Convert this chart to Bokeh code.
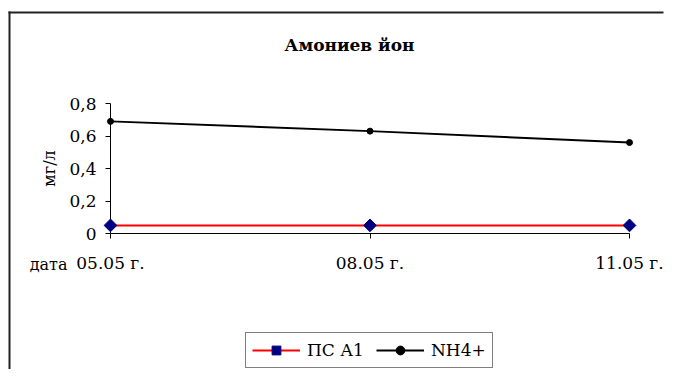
import math
from bokeh.plotting import figure
from bokeh.models import (Range1d, FixedTicker, CustomJSTickFormatter, Legend, LegendItem,
                          Label, BoxAnnotation)
from bokeh.embed import file_html
from bokeh.resources import INLINE

# ---- data ----
dates = ["05.05 г.", "08.05 г.", "11.05 г."]
x_pos = [0, 1, 2]
ps_a1 = [0.05, 0.05, 0.05]
nh4 = [0.69, 0.63, 0.56]
y_ticks = [0, 0.2, 0.4, 0.6, 0.8]
title_text = "Амониев йон"
y_label = "мг/л"
x_label = "дата"
series_names = ["ПС А1", "NH4+"]

FONT = "DejaVu Serif"
W, H = 666, 369
# pixel geometry of the plotting area inside the canvas
X0_PX, X2_PX = 110, 629      # x=0 and x=2
Y0_PX, Y8_PX = 233, 103      # y=0 and y=0.8 (from top)
xs = (X2_PX - X0_PX) / 2
ys = (Y0_PX - Y8_PX) / 0.8

p = figure(width=W, height=H, output_backend="svg", toolbar_location=None, title=None,
           x_range=Range1d(-X0_PX / xs, (W - X0_PX) / xs),
           y_range=Range1d(-(H - Y0_PX) / ys, Y0_PX / ys),
           min_border=0, min_border_left=0, min_border_right=0,
           min_border_top=0, min_border_bottom=0)
p.outline_line_color = None
p.xgrid.visible = False
p.ygrid.visible = False
p.background_fill_color = "white"
p.border_fill_color = "white"

# x axis
xa = p.xaxis[0]
xa.ticker = FixedTicker(ticks=x_pos)
xa.major_label_overrides = {i: d for i, d in zip(x_pos, dates)}
xa.fixed_location = 0
xa.bounds = (0, 2)
xa.major_tick_out = 5
xa.major_tick_in = 0
xa.minor_tick_out = 0
xa.minor_tick_in = 0
xa.major_label_text_font = FONT
xa.major_label_text_font_size = "17px"
xa.major_label_text_color = "black"
xa.major_label_standoff = 14
xa.axis_line_color = "black"
xa.major_tick_line_color = "black"

# y axis
ya = p.yaxis[0]
ya.ticker = FixedTicker(ticks=y_ticks)
ya.formatter = CustomJSTickFormatter(code="return tick == 0 ? '0' : tick.toFixed(1).replace('.', ',');")
ya.fixed_location = 0
ya.bounds = (0, 0.8)
ya.major_tick_out = 5
ya.major_tick_in = 0
ya.minor_tick_out = 0
ya.minor_tick_in = 0
ya.major_label_text_font = FONT
ya.major_label_text_font_size = "17px"
ya.major_label_text_color = "black"
ya.major_label_standoff = 9
ya.axis_label = y_label
ya.axis_label_text_font = FONT
ya.axis_label_text_font_size = "16px"
ya.axis_label_text_font_style = "normal"
ya.axis_label_text_color = "black"
ya.axis_label_standoff = 7
ya.axis_line_color = "black"
ya.major_tick_line_color = "black"

# series
r1 = p.line(x_pos, ps_a1, line_color="#FF0000", line_width=2)
s1 = p.scatter(x_pos, ps_a1, marker="square", size=9, angle=math.pi / 4,
               fill_color="#000080", line_color="#000080", level="overlay")
r2 = p.line(x_pos, nh4, line_color="black", line_width=2)
s2 = p.scatter(x_pos, nh4, marker="circle", size=6, fill_color="black", line_color="black")

legend = Legend(items=[LegendItem(label=series_names[0], renderers=[r1, s1]),
                       LegendItem(label=series_names[1], renderers=[r2, s2])],
                orientation="horizontal", location=(245, 1))
legend.label_text_font = FONT
legend.label_text_font_size = "17px"
legend.label_text_color = "black"
legend.border_line_color = "black"
legend.border_line_width = 1
legend.background_fill_color = "white"
legend.glyph_width = 48
legend.glyph_height = 22
legend.spacing = 12
legend.padding = 6
legend.margin = 0
legend.label_standoff = 7
p.add_layout(legend, "center")

# title
p.add_layout(Label(x=349, y=H - 44, x_units="screen", y_units="screen", text=title_text,
                   text_align="center", text_baseline="middle", text_color="black",
                   text_font=FONT, text_font_size="17px", text_font_style="bold"))

# "дата" label left of first category label
p.add_layout(Label(x=0, y=0, text=x_label, x_offset=-43, y_offset=-31,
                   text_align="right", text_baseline="middle", text_color="black",
                   text_font=FONT, text_font_size="16px"))

# outer chart border (top and left edges only; the rest lies outside the window)
p.add_layout(BoxAnnotation(left=8, right=W - 3, top=H - 11, bottom=H - 13,
                           left_units="screen", right_units="screen",
                           top_units="screen", bottom_units="screen",
                           fill_color="#222222", fill_alpha=1, line_alpha=0))
p.add_layout(BoxAnnotation(left=8, right=10, top=H - 11, bottom=0,
                           left_units="screen", right_units="screen",
                           top_units="screen", bottom_units="screen",
                           fill_color="#222222", fill_alpha=1, line_alpha=0))

open("out.html", "w").write(file_html(p, INLINE))
